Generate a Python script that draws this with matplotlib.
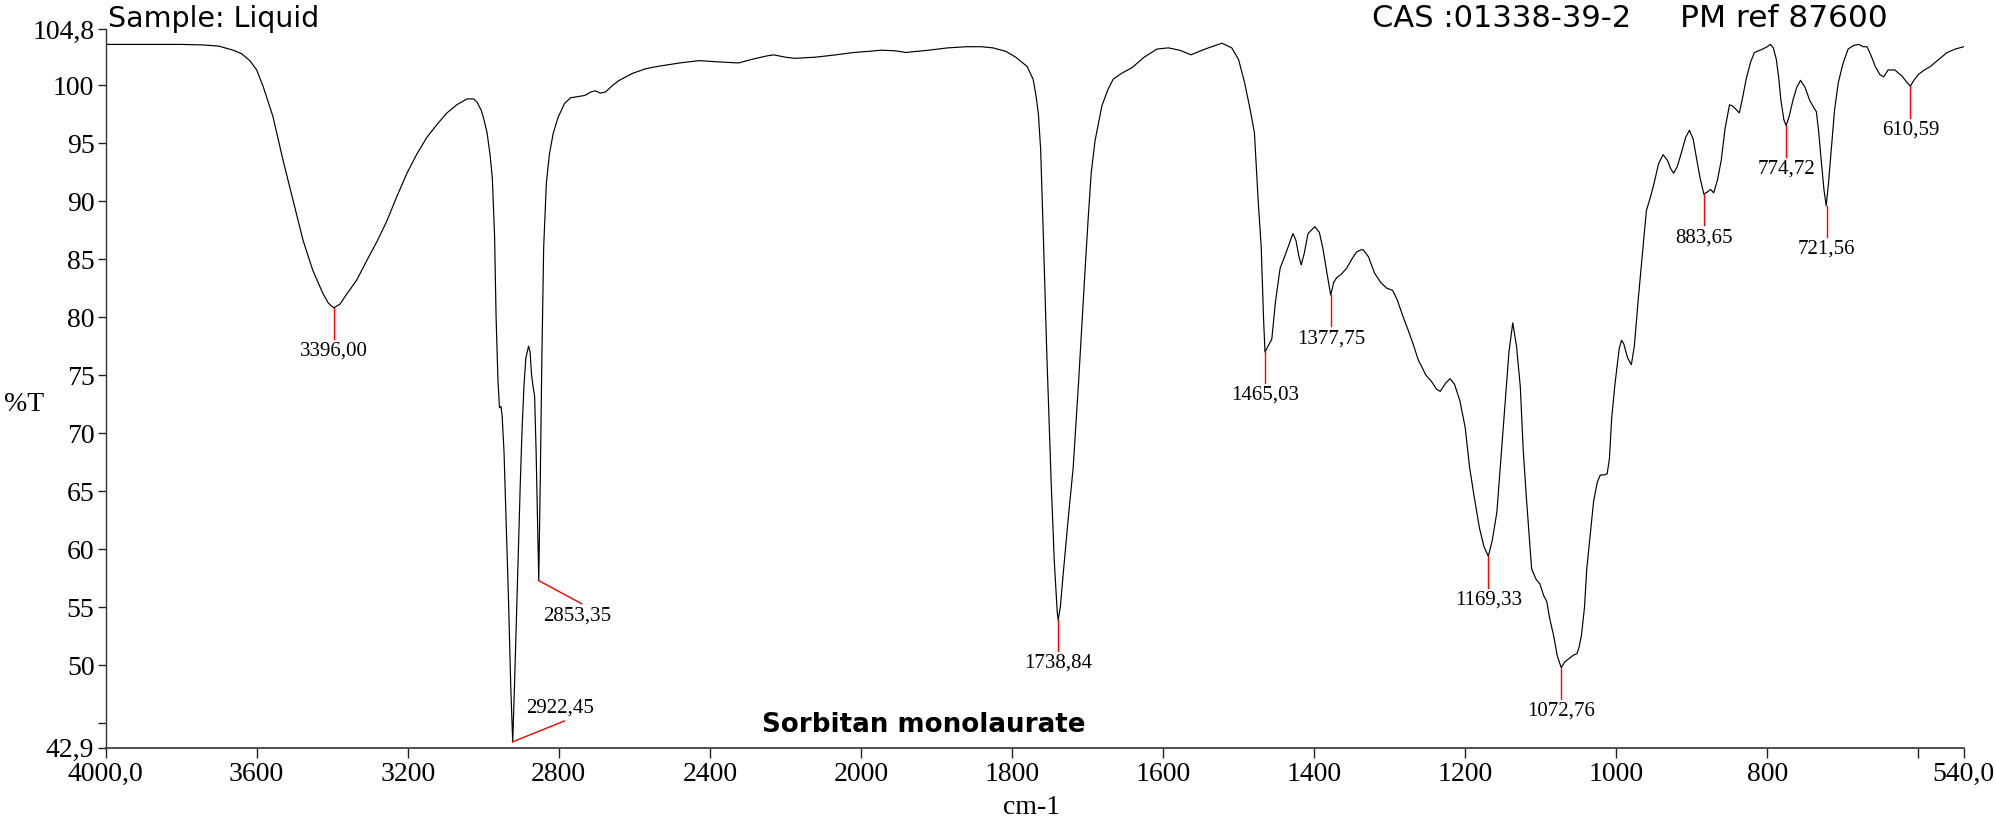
import numpy as np
import matplotlib
matplotlib.use("Agg")
import matplotlib.pyplot as plt

# IR spectrum (wavenumber cm-1, %T)
wavenumber = [4000, 3900, 3800, 3740, 3700, 3662, 3640, 3618, 3600, 3583, 3557, 3530, 3504,
              3477, 3451, 3424, 3410, 3396, 3380, 3361, 3335, 3308, 3280, 3255, 3230, 3202,
              3175, 3149, 3120, 3096, 3070, 3043, 3025, 3016, 3005, 2998, 2990, 2982, 2976,
              2970, 2966, 2961, 2957, 2953, 2950, 2945, 2939, 2933, 2927, 2922, 2917, 2911,
              2906, 2902, 2897, 2892, 2887, 2880, 2876, 2872, 2868, 2864, 2860, 2856, 2853,
              2849, 2845, 2840, 2833, 2825, 2815, 2802, 2785, 2769, 2750, 2731, 2715, 2703,
              2690, 2676, 2660, 2640, 2605, 2570, 2539, 2480, 2429, 2380, 2324, 2290, 2250,
              2231, 2200, 2176, 2120, 2066, 2020, 1990, 1973, 1955, 1940, 1934, 1910, 1885,
              1860, 1841, 1825, 1808, 1795, 1780, 1772, 1768, 1765, 1762, 1758, 1754, 1748,
              1744, 1740, 1738.8, 1736, 1732, 1725, 1719, 1712, 1703, 1699, 1695, 1690, 1681,
              1673, 1666, 1655, 1641, 1625, 1608, 1593, 1578, 1563, 1552, 1540, 1522, 1509,
              1500, 1492, 1485, 1479, 1474, 1470, 1467, 1465, 1461, 1456, 1451, 1445, 1438,
              1433, 1428, 1424, 1420, 1417, 1413, 1408, 1399, 1393, 1388, 1383, 1378, 1374,
              1370, 1364, 1357, 1350, 1344, 1338, 1335, 1328, 1320, 1312, 1304, 1296, 1290,
              1282, 1275, 1269, 1262, 1258, 1252, 1245, 1238, 1233, 1226, 1220, 1214, 1207,
              1200, 1194, 1188, 1181, 1175, 1169.3, 1164, 1158, 1152, 1147, 1142, 1137, 1132,
              1127, 1123, 1119, 1112, 1106, 1101, 1096, 1092, 1088, 1083, 1078, 1072.8, 1068,
              1062, 1056, 1052, 1049, 1046, 1042, 1039, 1034, 1030, 1025, 1021, 1016, 1012,
              1009, 1006, 1002, 999, 996, 993, 990, 985, 980, 976, 971, 966, 960, 954, 950,
              944, 938, 932, 928, 924, 919, 914, 908, 903, 898, 894, 889, 884, 879, 875, 871,
              866, 861, 856, 850, 846, 843, 840, 837, 833, 828, 822, 817, 806, 800, 796, 792,
              788, 785, 782, 778, 775, 771, 766, 761, 756, 750, 744, 738, 735, 732, 729, 725,
              722, 719, 715, 711, 706, 700, 693, 686, 679, 673, 668, 663, 657, 651, 646, 640,
              636, 631, 626, 622, 616, 610.6, 606, 600, 592, 584, 573, 562, 551, 540]
transmittance = [103.5, 103.5, 103.5, 103.45, 103.35, 103.0, 102.7, 102.1, 101.3, 99.9, 97.3,
                 93.5, 90.1, 86.6, 84.0, 82.0, 81.2, 80.8, 81.1, 82.0, 83.2, 84.9, 86.6, 88.3,
                 90.3, 92.4, 94.1, 95.5, 96.7, 97.6, 98.3, 98.8, 98.8, 98.5, 97.8, 97.0, 95.9,
                 94.0, 92.0, 87.0, 80.0, 74.5, 72.2, 72.3, 71.5, 68.4, 62.0, 55.5, 48.0, 43.4,
                 48.5, 55.5, 61.0, 65.6, 70.5, 74.2, 76.5, 77.5, 77.0, 75.0, 74.0, 73.2, 68.4,
                 62.0, 57.3, 66.0, 76.0, 86.0, 91.5, 94.0, 95.8, 97.2, 98.4, 98.9, 99.0, 99.1,
                 99.4, 99.5, 99.3, 99.4, 99.9, 100.4, 101.0, 101.4, 101.6, 101.9, 102.1, 102.0,
                 101.9, 102.2, 102.5, 102.6, 102.4, 102.3, 102.4, 102.6, 102.8, 102.9, 103.0,
                 102.95, 102.8, 102.85, 103.0, 103.2, 103.3, 103.3, 103.2, 102.9, 102.4, 101.6,
                 100.5, 99.0, 97.5, 94.4, 86.0, 77.1, 65.6, 59.0, 54.5, 53.9, 55.0, 58.0, 63.0,
                 67.0, 74.2, 84.3, 88.6, 92.5, 95.2, 98.2, 99.6, 100.5, 101.0, 101.5, 102.4,
                 103.1, 103.2, 103.0, 102.6, 102.9, 103.2, 103.6, 103.2, 102.2, 100.2, 98.0,
                 95.9, 90.0, 86.0, 80.0, 77.0, 77.5, 78.1, 81.4, 84.2, 85.4, 86.3, 87.2, 86.6,
                 85.2, 84.5, 85.5, 87.2, 87.8, 87.3, 85.8, 83.8, 81.9, 83.0, 83.4, 83.7, 84.2,
                 85.0, 85.6, 85.8, 85.8, 85.2, 83.8, 83.0, 82.5, 82.3, 81.5, 80.0, 78.8, 77.7,
                 76.3, 75.8, 75.0, 74.5, 73.8, 73.6, 74.3, 74.7, 74.2, 72.8, 70.5, 67.0, 64.5,
                 61.8, 60.2, 59.4, 60.8, 63.2, 68.4, 72.8, 77.0, 79.5, 77.5, 74.0, 68.4, 64.5,
                 58.3, 57.4, 57.0, 56.0, 55.5, 54.0, 52.6, 50.8, 49.8, 50.3, 50.6, 50.9, 51.0,
                 51.6, 52.6, 55.0, 58.3, 61.5, 64.1, 65.8, 66.4, 66.4, 66.5, 67.8, 71.3, 74.0,
                 75.7, 77.3, 78.0, 77.7, 76.5, 75.9, 77.5, 81.4, 85.0, 89.2, 90.5, 91.5, 93.2,
                 94.0, 93.5, 92.8, 92.4, 93.0, 94.1, 95.5, 96.1, 95.3, 93.8, 92.0, 90.6, 90.8,
                 91.0, 90.7, 91.8, 93.5, 96.2, 98.3, 98.2, 98.0, 97.8, 97.6, 98.8, 100.5, 102.0,
                 102.8, 103.1, 103.3, 103.5, 103.2, 102.2, 100.7, 98.7, 97.0, 96.5, 97.3, 98.7,
                 99.8, 100.4, 99.8, 98.7, 98.0, 97.7, 96.0, 93.8, 91.0, 89.6, 91.5, 94.7, 97.8,
                 100.2, 101.8, 103.1, 103.4, 103.5, 103.3, 103.3, 102.6, 101.6, 100.9, 100.7,
                 101.3, 101.3, 101.3, 101.0, 100.8, 100.3, 99.9, 100.4, 100.9, 101.3, 101.6,
                 102.2, 102.8, 103.1, 103.3]

# picked peaks
peak_wn = [3396.00, 2922.45, 2853.35, 1738.84, 1465.03, 1377.75, 1169.33, 1072.76,
           883.65, 774.72, 721.56, 610.59]
peak_t = [80.8, 43.4, 57.3, 53.9, 77.0, 81.9, 59.4, 49.8, 90.6, 96.5, 89.6, 99.9]

x_ticks = [4000, 3600, 3200, 2800, 2400, 2000, 1800, 1600, 1400, 1200, 1000, 800, 600, 540]
x_ticklabels = ["4000,0", "3600", "3200", "2800", "2400", "2000", "1800", "1600", "1400",
                "1200", "1000", "800", "", "540,0"]
y_ticks = [104.8, 100, 95, 90, 85, 80, 75, 70, 65, 60, 55, 50, 45, 42.9]
y_ticklabels = ["104,8", "100", "95", "90", "85", "80", "75", "70", "65", "60", "55", "50",
                "", "42,9"]


# x axis is doubled in scale below 2000 cm-1
def fwd(w):
    w = np.asarray(w, dtype=float)
    return np.where(w >= 2000, w, 2 * w - 2000)


def inv(u):
    u = np.asarray(u, dtype=float)
    return np.where(u >= 2000, u, (u + 2000) / 2)


serif = "Liberation Serif"

fig = plt.figure(figsize=(19.96, 8.21), dpi=100)
ax = fig.add_axes([0.0529, 0.0893, 0.9309, 0.875])
ax.set_xscale("function", functions=(fwd, inv))

ax.plot(wavenumber, transmittance, color="black", lw=0.85)

# red peak markers and labels
for w, t in zip(peak_wn, peak_t):
    lab = ("%.2f" % w).replace(".", ",")
    if abs(w - 2922.45) < 0.01:
        ax.plot([w, w - 137], [t, t + 1.8], color="red", lw=1.0)
        ax.text(w - 125, t + 2.9, lab, ha="center", va="center", fontsize=15, family=serif)
    elif abs(w - 2853.35) < 0.01:
        ax.plot([w, w - 114], [t, t - 2.0], color="red", lw=1.0)
        ax.text(w - 102, t - 3.1, lab, ha="center", va="center", fontsize=15, family=serif)
    else:
        ax.plot([w, w], [t, t - 2.7], color="red", lw=1.0)
        ax.text(w, t - 3.75, lab, ha="center", va="center", fontsize=15, family=serif)

ax.set_xlim(4000, 540)
ax.set_ylim(42.9, 104.8)
ax.set_xticks(x_ticks)
ax.set_xticklabels(x_ticklabels)
ax.set_yticks(y_ticks)
ax.set_yticklabels(y_ticklabels)
ax.minorticks_off()

for lbl in ax.get_xticklabels() + ax.get_yticklabels():
    lbl.set_family(serif)
    lbl.set_fontsize(20)

ax.tick_params(axis="x", direction="out", length=7, width=1.0, pad=3, colors="#222222")
ax.tick_params(axis="y", direction="out", length=6, width=1.0, pad=2, colors="#222222")
for lbl in ax.get_xticklabels() + ax.get_yticklabels():
    lbl.set_color("black")

ax.spines["top"].set_visible(False)
ax.spines["right"].set_visible(False)
ax.spines["left"].set_color("#333333")
ax.spines["bottom"].set_color("#333333")
ax.spines["left"].set_linewidth(1.0)
ax.spines["bottom"].set_linewidth(1.2)

fig.text(0.002, 0.507, "%T", ha="left", va="center", fontsize=20, family=serif)
fig.text(0.517, 0.016, "cm-1", ha="center", va="center", fontsize=20, family=serif)

fig.text(0.4627, 0.117, "Sorbitan monolaurate", ha="center", va="center",
         fontsize=18.8, fontweight="bold", family="DejaVu Sans")
# header line (sits right at the top edge, as in the scan)
fig.text(0.054, 0.967, "Sample: Liquid", ha="left", va="baseline", fontsize=20.5,
         family="DejaVu Sans")
fig.text(0.6874, 0.967, "CAS :01338-39-2", ha="left", va="baseline", fontsize=22,
         family="DejaVu Sans")
fig.text(0.8417, 0.967, "PM ref 87600", ha="left", va="baseline", fontsize=22.5,
         family="DejaVu Sans")

fig.savefig("out.png", dpi=100)
